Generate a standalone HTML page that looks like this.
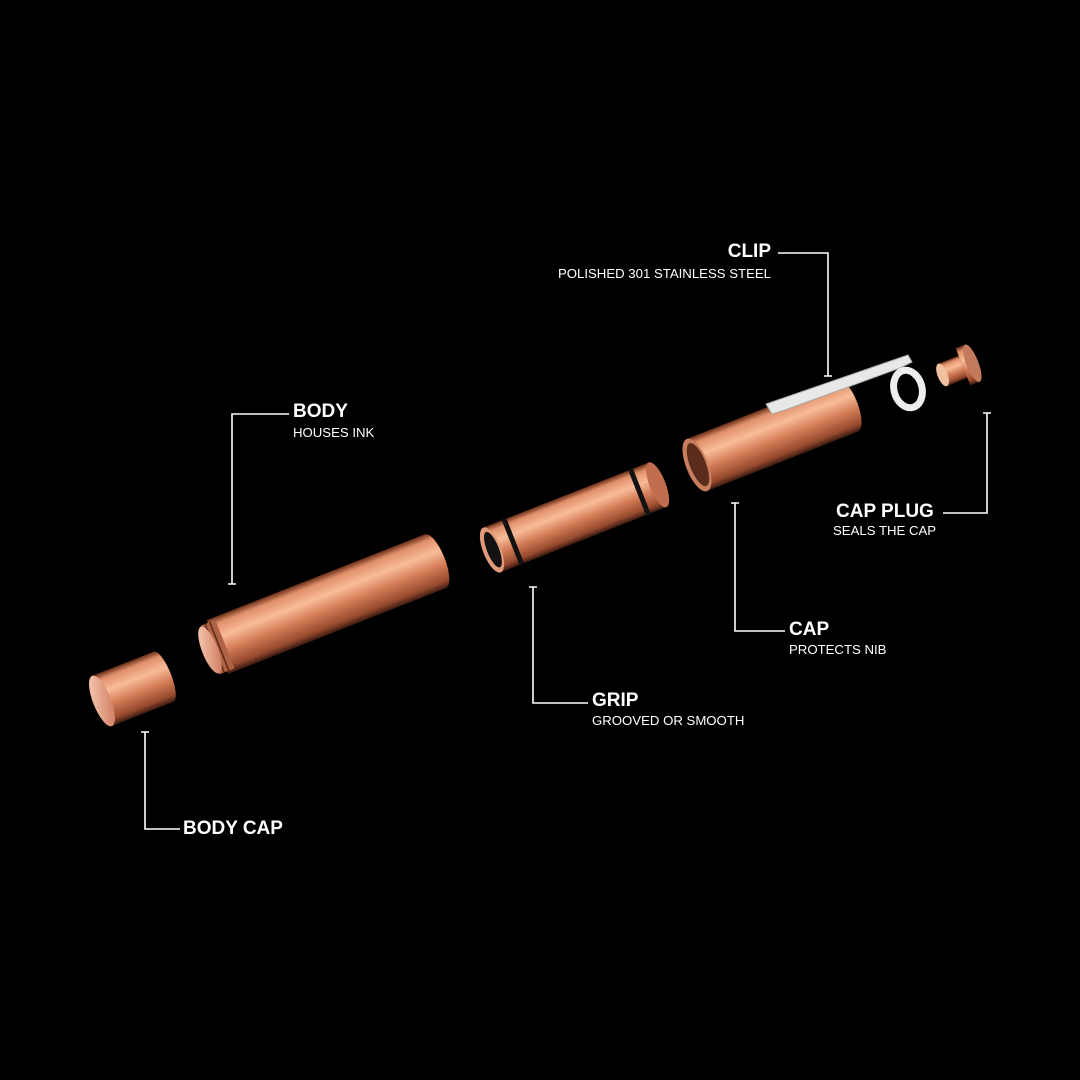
<!DOCTYPE html>
<html><head><meta charset="utf-8"><style>
html,body{margin:0;padding:0;background:#000;}
svg{display:block}
.t{font-family:"Liberation Sans",sans-serif;font-weight:bold;font-size:19px;fill:#fff}
.s{font-family:"Liberation Sans",sans-serif;font-size:13.2px;fill:#fff}
.l{stroke:#fff;stroke-width:1.6;fill:none}
</style></head><body>
<svg width="1080" height="1080" viewBox="0 0 1080 1080">
<defs>
<linearGradient id="cu" x1="0" y1="0" x2="0" y2="1">
<stop offset="0" stop-color="#6a2e18"/>
<stop offset="0.12" stop-color="#e0906a"/>
<stop offset="0.35" stop-color="#f8bc98"/>
<stop offset="0.6" stop-color="#d57e58"/>
<stop offset="0.88" stop-color="#964a2e"/>
<stop offset="1" stop-color="#3a1a10"/>
</linearGradient>
<linearGradient id="face" x1="0" y1="0" x2="1" y2="1">
<stop offset="0" stop-color="#fcd0b8"/>
<stop offset="1" stop-color="#c87458"/>
</linearGradient>
</defs>
<rect width="1080" height="1080" fill="#000"/>

<g transform="translate(102,701) rotate(-21.5)">
<rect x="0" y="-27" width="66" height="54" fill="url(#cu)"/>
<ellipse cx="66" cy="0" rx="8" ry="27" fill="url(#cu)"/>
<ellipse cx="0" cy="0" rx="9" ry="27" fill="url(#face)"/>
</g>
<g transform="translate(210,650) rotate(-21.5)">
<rect x="8" y="-29" width="234" height="58" fill="url(#cu)"/>
<ellipse cx="242" cy="0" rx="10" ry="29" fill="url(#cu)"/>
<rect x="0" y="-26" width="16" height="52" fill="#b06244"/>
<line x1="5" y1="-26" x2="5" y2="26" stroke="#5a2a18" stroke-width="1.5"/>
<line x1="10" y1="-26" x2="10" y2="26" stroke="#5a2a18" stroke-width="1.5"/>
<ellipse cx="0" cy="0" rx="8" ry="25" fill="url(#face)"/>
</g>
<g transform="translate(492,550) rotate(-21.5)">
<rect x="0" y="-24" width="178" height="48" fill="url(#cu)"/>
<rect x="20" y="-25" width="5" height="50" fill="#111"/>
<rect x="156" y="-25" width="5" height="50" fill="#111"/>
<ellipse cx="178" cy="0" rx="8" ry="24" fill="#c06e4e"/>
<ellipse cx="0" cy="0" rx="9" ry="24" fill="#e09a7a"/>
<ellipse cx="1" cy="0" rx="6" ry="19" fill="#111"/>
</g>
<g transform="translate(697,465) rotate(-21.5)">
<rect x="0" y="-28" width="162" height="56" fill="url(#cu)"/>
<ellipse cx="162" cy="0" rx="10" ry="28" fill="url(#cu)"/>
<ellipse cx="0" cy="0" rx="11" ry="28" fill="#c87e5e"/>
<ellipse cx="1" cy="0" rx="8" ry="23" fill="#5a2c1c"/>
</g>
<path d="M766,404 L772,414 L785,410 L900,368 L912,362 L908,355 Z" fill="#e8e8e8" stroke="#aaa" stroke-width="1"/>
<ellipse cx="908" cy="389" rx="14" ry="19" fill="none" stroke="#eee" stroke-width="7" transform="rotate(-15 908 389)"/>
<g transform="translate(950,372) rotate(-21.5)">
<rect x="-8" y="-12" width="22" height="24" fill="url(#cu)"/>
<ellipse cx="-8" cy="0" rx="5" ry="12" fill="#f0c0a0"/>
<rect x="14" y="-20" width="10" height="40" fill="url(#cu)"/>
<ellipse cx="24" cy="0" rx="6" ry="20" fill="#c47a5c"/>
</g>

<path class="l" d="M778,253 H828 V376 M824,376 H832"/>
<path class="l" d="M289,414 H232 V584 M228,584 H236"/>
<path class="l" d="M943,513 H987 V413 M983,413 H991"/>
<path class="l" d="M785,631 H735 V503 M731,503 H739"/>
<path class="l" d="M588,703 H533 V587 M529,587 H537"/>
<path class="l" d="M180,829 H145 V732 M141,732 H149"/>

<text class="t" x="771" y="257" text-anchor="end">CLIP</text>
<text class="s" x="771" y="278" text-anchor="end">POLISHED 301 STAINLESS STEEL</text>
<text class="t" x="293" y="417">BODY</text>
<text class="s" x="293" y="437">HOUSES INK</text>
<text class="t" x="836" y="517">CAP PLUG</text>
<text class="s" x="833" y="535">SEALS THE CAP</text>
<text class="t" x="789" y="635">CAP</text>
<text class="s" x="789" y="654">PROTECTS NIB</text>
<text class="t" x="592" y="706">GRIP</text>
<text class="s" x="592" y="725">GROOVED OR SMOOTH</text>
<text class="t" x="183" y="834">BODY CAP</text>
</svg>
</body></html>
